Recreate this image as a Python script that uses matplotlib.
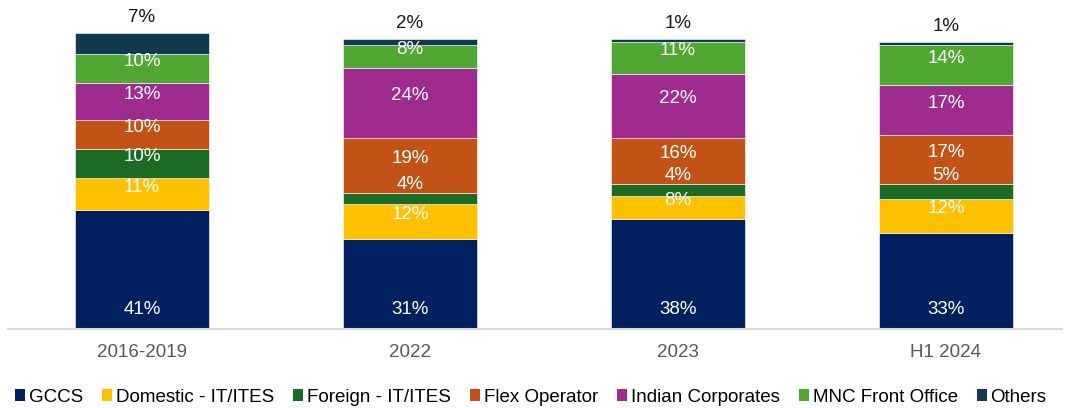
import matplotlib
matplotlib.use("Agg")
import matplotlib.pyplot as plt
import numpy as np
from matplotlib.patches import Patch

plt.rcParams["font.family"] = ["Liberation Sans", "DejaVu Sans"]

periods = ["2016-2019", "2022", "2023", "H1 2024"]
segments = ["GCCS", "Domestic - IT/ITES", "Foreign - IT/ITES", "Flex Operator",
            "Indian Corporates", "MNC Front Office", "Others"]
gccs = [41, 31, 38, 33]
domestic_it = [11, 12, 8, 12]
foreign_it = [10, 4, 4, 5]
flex_operator = [10, 19, 16, 17]
indian_corporates = [13, 24, 22, 17]
mnc_front_office = [10, 8, 11, 14]
others = [7, 2, 1, 1]

series = [gccs, domestic_it, foreign_it, flex_operator,
          indian_corporates, mnc_front_office, others]
colors = ["#002060", "#FFC000", "#1C6B25", "#C35216",
          "#9F2B8F", "#50A732", "#0F3A50"]

fs = 13.5
fig = plt.figure(figsize=(10.7, 4.08), dpi=100)
ax = fig.add_axes([8 / 1070, 1 - 329 / 408, (1062 - 8) / 1070, 329 / 408])

x = np.arange(len(periods))
width = 0.5
bottom = np.zeros(len(periods))
for name, vals, col in zip(segments, series, colors):
    vals = np.array(vals, dtype=float)
    ax.bar(x, vals, width, bottom=bottom, color=col, edgecolor="white",
           linewidth=0.4, label=name)
    for xi, v, b in zip(x, vals, bottom):
        label = f"{int(v)}%"
        if name == "GCCS":
            ax.annotate(label, (xi, b), xytext=(0, 14), textcoords="offset points",
                        ha="center", va="center", color="white", fontsize=fs)
        elif name == "Others":
            ax.annotate(label, (xi, b + v), xytext=(0, 5), textcoords="offset points",
                        ha="center", va="bottom", color="#1a1a1a", fontsize=fs)
        elif v <= 5:
            ax.annotate(label, (xi, b + v), xytext=(0, 0), textcoords="offset points",
                        ha="center", va="bottom", color="white", fontsize=fs)
        else:
            ax.annotate(label, (xi, b + v / 2), xytext=(0, 5), textcoords="offset points",
                        ha="center", va="center", color="white", fontsize=fs)
    bottom += vals

ax.set_xlim(-0.5, 3.433)
ax.set_ylim(0, 329 / 2.9)
ax.set_xticks(x)
ax.set_xticklabels(periods, fontsize=fs, color="#595959")
ax.tick_params(axis="x", length=0, pad=11)
ax.set_yticks([])
for s in ["top", "right", "left"]:
    ax.spines[s].set_visible(False)
ax.spines["bottom"].set_color("#D9D9D9")
ax.spines["bottom"].set_linewidth(1.5)

handles = [Patch(facecolor=c, edgecolor="none") for c in colors]
fig.legend(handles, segments, loc="center left", bbox_to_anchor=(15 / 1070, 1 - 397 / 408),
           ncol=7, frameon=False, fontsize=13.5, handlelength=0.55, handleheight=0.55,
           handletextpad=0.2, columnspacing=1.0, borderaxespad=0, borderpad=0)

fig.savefig("out.png", dpi=100)
